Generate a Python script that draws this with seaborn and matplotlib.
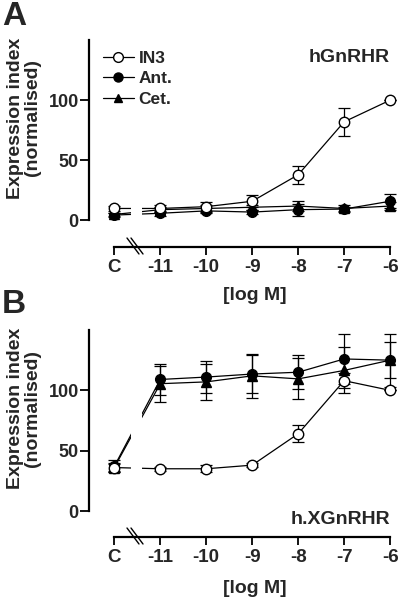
import matplotlib
matplotlib.use("Agg")
import matplotlib.pyplot as plt
import seaborn as sns
import pandas as pd
from matplotlib.lines import Line2D

sns.set_theme(style="ticks")
plt.rcParams['font.family'] = ['Liberation Sans', 'DejaVu Sans']
plt.rcParams['font.weight'] = 'bold'

# positions: C plotted at -12
x_pos = [-12, -11, -10, -9, -8, -7, -6]
x_labels = ["C", "-11", "-10", "-9", "-8", "-7", "-6"]
series = ["IN3", "Ant.", "Cet."]

# Panel A (hGnRHR)
a_in3 = [10, 10, 11.5, 16, 38, 82, 100]
a_in3_err = [2, 3, 4, 5, 7.5, 11.5, 0]
a_ant = [4.5, 6, 8, 7, 9, 9.5, 16]
a_ant_err = [1.5, 2, 2, 2, 5, 2, 6]
a_cet = [5, 9, 10, 11, 12, 10, 12]
a_cet_err = [1.5, 2, 3, 2, 4, 3, 3]

# Panel B (h.XGnRHR)
b_in3 = [36, 35, 35, 38, 64, 108, 100]
b_in3_err = [3, 1.5, 3, 1.5, 7, 6, 0]
b_ant = [37, 109, 111, 113.5, 115, 126, 125]
b_ant_err = [5, 13, 13, 16, 14, 21, 22]
b_cet = [36, 105.5, 107, 112, 109.5, 116.5, 125]
b_cet_err = [4, 15, 15, 18, 17, 19, 15]

styles = {
    "IN3": dict(marker="o", mfc="white", ms=7.5, zorder=5),
    "Ant.": dict(marker="o", mfc="black", ms=7, zorder=4),
    "Cet.": dict(marker="^", mfc="black", ms=6.5, zorder=3),
}

YT_FS = 13
XT_FS = 13.5
LAB_FS = 14

fig = plt.figure(figsize=(4, 6), dpi=100)
W = 308 / 400
axA = fig.add_axes([89 / 400, 1 - 220.5 / 600, W, 180.5 / 600])
axB = fig.add_axes([89 / 400, 1 - 511 / 600, W, 181 / 600])


def draw(ax, vals, errs, label_text, label_y, offset_px, xlab_y):
    for name, v, e in zip(series, vals, errs):
        df = pd.DataFrame({"x": x_pos, "y": v})
        st = styles[name]
        sns.lineplot(data=df, x="x", y="y", ax=ax, color="black", lw=0.9,
                     marker=st["marker"], markerfacecolor=st["mfc"],
                     markeredgecolor="black", markersize=st["ms"],
                     markeredgewidth=1.0, zorder=st["zorder"], legend=False)
        ax.errorbar(x_pos, v, yerr=e, fmt="none", ecolor="black",
                    elinewidth=0.9, capsize=4.5, capthick=0.9,
                    zorder=st["zorder"] - 0.5)
    # gap in the lines at the axis break
    ax.axvspan(-11.64, -11.4, ymin=0, ymax=0.58, color="white", zorder=10, lw=0)
    ax.set_xlim(-12.55, -5.85)
    ax.set_ylim(0, 150)
    ax.spines["top"].set_visible(False)
    ax.spines["right"].set_visible(False)
    ax.spines["left"].set_bounds(0, 150)
    ax.spines["bottom"].set_bounds(-12, -6)
    ax.spines["bottom"].set_position(("outward", offset_px * 72 / 100))
    for s in ["left", "bottom"]:
        ax.spines[s].set_linewidth(1.6)
        ax.spines[s].set_color("black")
    ax.tick_params(axis="y", length=6.5, width=1.3, color="black", pad=0.8,
                   labelsize=YT_FS)
    ax.tick_params(axis="x", length=5.5, width=1.3, color="black", pad=3.0,
                   labelsize=XT_FS)
    ax.set_yticks([0, 50, 100])
    ax.set_yticklabels(["0", "50", "100"])
    ax.set_xticks(x_pos)
    ax.set_xticklabels(x_labels)
    plt.setp(ax.get_yticklabels(), fontsize=YT_FS, fontweight="bold")
    plt.setp(ax.get_xticklabels(), fontsize=XT_FS, fontweight="bold")
    ax.set_xlabel("[log M]", fontsize=LAB_FS, fontweight="bold")
    ax.xaxis.set_label_coords((255 - 89) / 308, xlab_y)
    ax.set_ylabel("Expression index\n(normalised)", fontsize=LAB_FS,
                  fontweight="bold", linespacing=1.0)
    ax.yaxis.set_label_coords(-0.155, 0.568)
    ax.text(390 / 400, label_y, label_text, transform=fig.transFigure,
            ha="right", va="center", fontsize=LAB_FS, fontweight="bold")


draw(axA, [a_in3, a_ant, a_cet], [a_in3_err, a_ant_err, a_cet_err], "hGnRHR",
     1 - 58 / 600, 27, -0.37)
draw(axB, [b_in3, b_ant, b_cet], [b_in3_err, b_ant_err, b_cet_err], "h.XGnRHR",
     1 - 520 / 600, 26, -0.38)


# break slashes along the offset x-axis
def slashes(y_axis_px):
    for dx in (0, 4):
        fig.add_artist(Line2D([(127 + dx) / 400, (139 + dx) / 400],
                              [1 - (y_axis_px - 9) / 600, 1 - (y_axis_px + 7) / 600],
                              transform=fig.transFigure, color="black", lw=1.0))


slashes(247)
slashes(537)

handles = [Line2D([], [], color="black", lw=0.9, marker=styles[n]["marker"],
                  markerfacecolor=styles[n]["mfc"], markeredgecolor="black",
                  markersize=styles[n]["ms"] - 0.5) for n in series]
leg = axA.legend(handles, series, loc="upper left", bbox_to_anchor=(0.045, 0.94),
                 frameon=False, handlelength=1.8, handletextpad=0.25, labelspacing=0.3,
                 borderpad=0, prop={"size": 12.5, "weight": "bold"}, borderaxespad=0)
leg.set_zorder(20)

fig.text(2 / 400, 0.999, "A", fontsize=24, fontweight="bold", va="top", ha="left")
fig.text(2 / 400, 1 - 289 / 600, "B", fontsize=24, fontweight="bold", va="top", ha="left")

fig.savefig("out.png", dpi=100)
